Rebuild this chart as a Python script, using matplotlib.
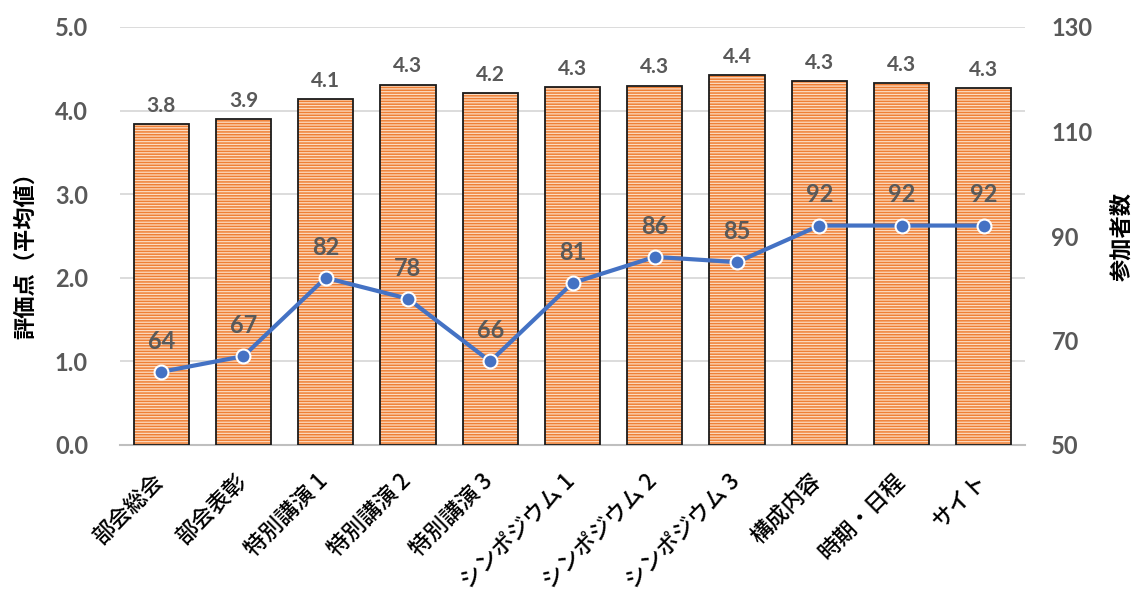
import matplotlib
matplotlib.use("Agg")
import matplotlib.pyplot as plt
from matplotlib.transforms import ScaledTranslation

plt.rcParams['font.family'] = ['Noto Sans CJK JP', 'DejaVu Sans']
plt.rcParams['hatch.linewidth'] = 1.1

categories = ["部会総会", "部会表彰", "特別講演 1", "特別講演 2", "特別講演 3",
              "シンポジウム 1", "シンポジウム 2", "シンポジウム 3", "構成内容", "時期・日程", "サイト"]
scores = [3.84, 3.90, 4.14, 4.31, 4.21, 4.28, 4.30, 4.42, 4.35, 4.33, 4.27]
attendees = [64, 67, 82, 78, 66, 81, 86, 85, 92, 92, 92]
left_ticks = [0, 1, 2, 3, 4, 5]
right_ticks = [50, 70, 90, 110, 130]

grey = '#595959'
numfont = ['Lato', 'DejaVu Sans']
fig = plt.figure(figsize=(11.35, 5.97), dpi=100)
ax = fig.add_axes([120/1135, 1-445/597, (1025-120)/1135, (445-27)/597])
x = list(range(len(categories)))

ax.bar(x, scores, width=0.67, facecolor='#FCDCC2', edgecolor='#EF7F35', hatch='------', linewidth=0, zorder=2)
bars = ax.bar(x, scores, width=0.67, fill=False, edgecolor='#1a1a1a', linewidth=1.3, zorder=3)
ax.bar_label(bars, labels=[f"{v:.1f}" for v in scores], padding=6, color=grey,
             fontsize=15, fontweight='bold', family=numfont)

ax.set_ylim(0, 5)
ax.set_xlim(-0.5, len(categories) - 0.5)
ax.set_yticks(left_ticks)
ax.set_yticklabels([f"{t:.1f}" for t in left_ticks])
ax.yaxis.grid(True, color='#D9D9D9', linewidth=1.3, zorder=0)
ax.set_axisbelow(True)
for s in ['top', 'right', 'left']:
    ax.spines[s].set_visible(False)
ax.spines['bottom'].set_color('#BFBFBF')
ax.spines['bottom'].set_linewidth(1.5)
ax.tick_params(axis='both', length=0)
ax.tick_params(axis='y', pad=23)
for lab in ax.get_yticklabels():
    lab.set_color(grey); lab.set_fontweight('bold'); lab.set_fontsize(17)
    lab.set_family(numfont)
ax.set_xticks(x)
ax.set_xticklabels(categories, rotation=45, ha='right', va='top', rotation_mode='anchor',
                   fontsize=16, color='black', fontweight='medium')
ax.tick_params(axis='x', pad=14)
offset = ScaledTranslation(-9/100, -5/100, fig.dpi_scale_trans)
for lab in ax.get_xticklabels():
    lab.set_transform(lab.get_transform() + offset)
ax.set_ylabel("評価点（平均値）", fontsize=16, color='black', fontweight='bold')
ax.yaxis.set_label_coords(-0.0917, 0.466)

ax2 = ax.twinx()
ax2.plot(x, attendees, color='#4472C4', linewidth=3, marker='o', markersize=10,
         markerfacecolor='#4472C4', markeredgecolor='white', markeredgewidth=1.5, zorder=5)
for xi, v in zip(x, attendees):
    ax2.annotate(str(v), (xi, v), xytext=(0, 22), textcoords='offset points', ha='center',
                 va='center', color=grey, fontsize=17, fontweight='bold', family=numfont)
ax2.set_ylim(50, 130)
ax2.set_yticks(right_ticks)
for s in ['top', 'right', 'left', 'bottom']:
    ax2.spines[s].set_visible(False)
ax2.tick_params(axis='y', length=0, pad=19)
for lab in ax2.get_yticklabels():
    lab.set_color(grey); lab.set_fontweight('bold'); lab.set_fontsize(17)
    lab.set_family(numfont)
ax2.set_ylabel("参加者数", fontsize=16, color='black', rotation=90, fontweight='bold')
ax2.yaxis.set_label_coords(1.094, 0.498)

fig.savefig("out.png", dpi=100)
